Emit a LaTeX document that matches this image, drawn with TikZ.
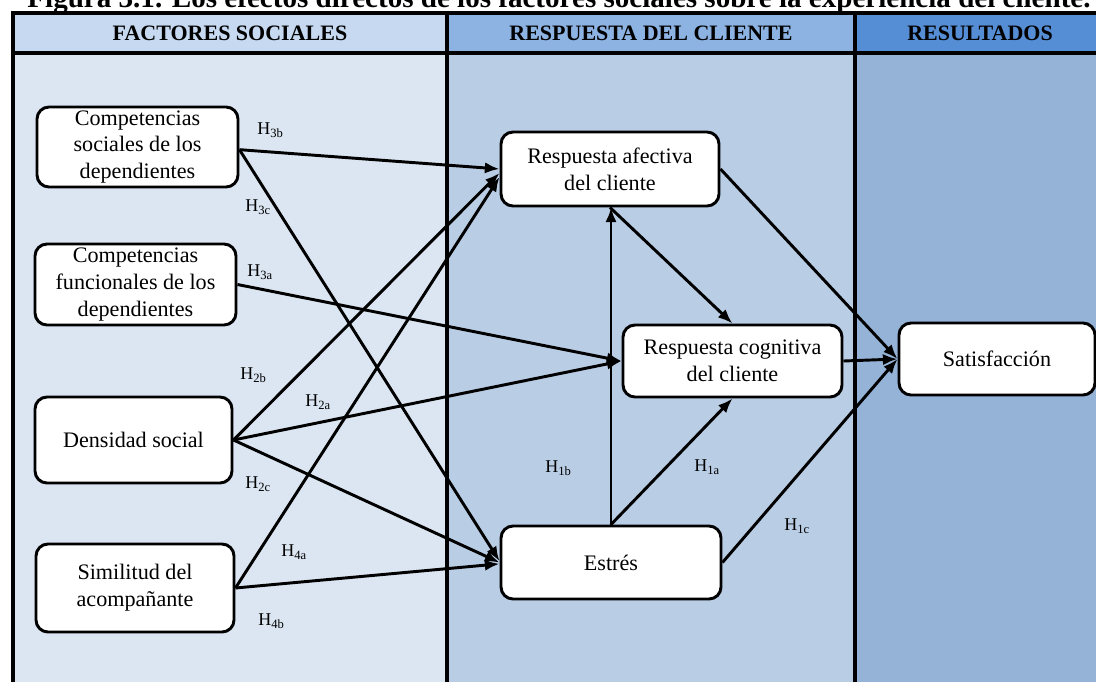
\documentclass[tikz,border=0pt]{standalone}
\usepackage{fontspec}
\setmainfont{Liberation Serif}
\usepackage{tikz}
\usetikzlibrary{positioning,shapes,arrows.meta,backgrounds,calc}
\definecolor{hdrA}{RGB}{198,217,241}
\definecolor{hdrB}{RGB}{141,179,226}
\definecolor{hdrC}{RGB}{85,142,213}
\definecolor{bodyA}{RGB}{220,230,242}
\definecolor{bodyB}{RGB}{185,205,229}
\definecolor{bodyC}{RGB}{149,179,215}
\tikzstyle{box1} = [rectangle, draw, line width=2.2pt, fill=white, %
   rounded corners=9pt, text centered, align=center, inner sep=0pt, %
   font=\fontsize{16.6}{20.2}\selectfont]
\tikzstyle{header} = [font=\bfseries\fontsize{16.5}{18}\selectfont]
\tikzstyle{hyp} = [anchor=west, inner sep=0pt, font=\fontsize{13.5}{15}\selectfont]
\tikzstyle{rule} = [draw, line width=2.6pt]
\tikzstyle{plain} = [draw, line width=2.2pt]
\tikzstyle{line} = [draw, line width=2.2pt, -{Latex[length=11pt,width=8.5pt]}]

\begin{document}
\begin{tikzpicture}[x=0.75pt, y=-0.75pt]
   \useasboundingbox (0,0) rectangle (1096,682);

   % Columns
   \fill[bodyA] (13,53) rectangle (447,682);
   \fill[bodyB] (447,53) rectangle (855,682);
   \fill[bodyC] (855,53) rectangle (1096,682);
   \fill[hdrA] (13,13) rectangle (447,53);
   \fill[hdrB] (447,13) rectangle (855,53);
   \fill[hdrC] (855,13) rectangle (1096,53);
   \path [rule] (13,682) -- (13,13) -- (1096,13);
   \path [rule] (13,53) -- (1096,53);
   \path [rule] (447,13) -- (447,682);
   \path [rule] (855,13) -- (855,682);

   \node[anchor=base, font=\bfseries\fontsize{21.8}{24}\selectfont] (title) at (559,7)
      {Figura 3.1. Los efectos directos de los factores sociales sobre la experiencia del cliente.};
   \node[header] (hfact) at (230,33) {FACTORES SOCIALES};
   \node[header] (hresp) at (651,33) {RESPUESTA DEL CLIENTE};
   \node[header] (hres) at (980,33) {RESULTADOS};

   % Place nodes
   \node[box1, minimum width=201*0.75pt, minimum height=80*0.75pt] (soc) at (137.5,147)
      {Competencias\\sociales de los\\dependientes};
   \node[box1, minimum width=201*0.75pt, minimum height=81*0.75pt] (func) at (135.5,284.5)
      {Competencias\\funcionales de los\\dependientes};
   \node[box1, minimum width=197*0.75pt, minimum height=86*0.75pt] (dens) at (133.5,440)
      {Densidad social};
   \node[box1, minimum width=198*0.75pt, minimum height=88*0.75pt] (simil) at (135,588)
      {Similitud del\\acompañante};
   \node[box1, minimum width=218*0.75pt, minimum height=74*0.75pt] (afect) at (610,169)
      {Respuesta afectiva\\del cliente};
   \node[box1, minimum width=219*0.75pt, minimum height=72*0.75pt] (cogn) at (732.5,361)
      {Respuesta cognitiva\\del cliente};
   \node[box1, minimum width=220*0.75pt, minimum height=73*0.75pt] (estres) at (611,562.5)
      {Estrés};
   \node[box1, minimum width=196*0.75pt, minimum height=72*0.75pt] (satis) at (997,359)
      {Satisfacción};

   % Hypotheses
   \node[hyp] (h3b) at (257,130) {H\textsubscript{3b}};
   \node[hyp] (h3c) at (245,207) {H\textsubscript{3c}};
   \node[hyp] (h3a) at (247,272) {H\textsubscript{3a}};
   \node[hyp] (h2b) at (240,375) {H\textsubscript{2b}};
   \node[hyp] (h2a) at (305,402) {H\textsubscript{2a}};
   \node[hyp] (h2c) at (245,484) {H\textsubscript{2c}};
   \node[hyp] (h4a) at (281,552) {H\textsubscript{4a}};
   \node[hyp] (h4b) at (258,621) {H\textsubscript{4b}};
   \node[hyp] (h1b) at (545,468) {H\textsubscript{1b}};
   \node[hyp] (h1a) at (694,467) {H\textsubscript{1a}};
   \node[hyp] (h1c) at (784,526) {H\textsubscript{1c}};

   % Draw edges
   \path [line] ([yshift=-2pt]soc.east) -- (afect.west);
   \path [line] ([yshift=-2pt]soc.east) -- ([yshift=1pt]estres.west);
   \path [line] (func.east) -- (cogn.west);
   \path [line] (dens.east) -- ([yshift=-3pt]afect.west);
   \path [line] (dens.east) -- (cogn.west);
   \path [line] (dens.east) -- (estres.west);
   \path [line] (simil.east) -- ([yshift=-6pt]afect.west);
   \path [line] (simil.east) -- ([yshift=-1pt]estres.west);
   \path [line] (estres.north) -- (estres.north |- afect.south);
   \path [line] (afect.south) -- (cogn.north);
   \path [line] (estres.north) -- (cogn.south);
   \path [line] (afect.east) -- (satis.west);
   \path [line] (cogn.east) -- (satis.west);
   \path [line] (estres.east) -- (satis.west);
\end{tikzpicture}
\end{document}
